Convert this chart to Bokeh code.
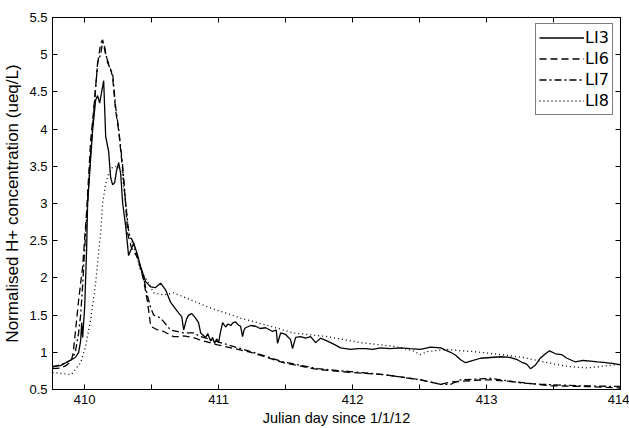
from bokeh.plotting import figure
from bokeh.models import LinearAxis, FixedTicker, Legend, LegendItem, Range1d
from bokeh.embed import file_html
from bokeh.resources import INLINE

# ---- data ----
li3_x = [409.76, 409.82, 409.90, 409.93, 409.955, 409.97, 409.978, 409.985, 410.0, 410.015,
         410.022, 410.037, 410.06, 410.082, 410.097, 410.112, 410.127, 410.142, 410.157, 410.179,
         410.194, 410.209, 410.224, 410.239, 410.254, 410.269, 410.284, 410.306, 410.328, 410.351,
         410.366, 410.396, 410.418, 410.455, 410.493, 410.53, 410.567, 410.604, 410.642, 410.701,
         410.725, 410.739, 410.761, 410.776, 410.80, 410.828, 410.85, 410.866, 410.903, 410.92,
         410.94, 410.955, 410.97, 410.985, 411.0, 411.015, 411.03, 411.052, 411.07, 411.09,
         411.11, 411.127, 411.145, 411.164, 411.179, 411.19, 411.201, 411.24, 411.276, 411.31,
         411.351, 411.403, 411.43, 411.44, 411.463, 411.5, 411.537, 411.552, 411.575, 411.612,
         411.65, 411.687, 411.724, 411.761, 411.80, 411.836, 411.87, 411.91, 411.985, 412.04,
         412.097, 412.15, 412.209, 412.28, 412.358, 412.43, 412.507, 412.582, 412.657, 412.731,
         412.77, 412.806, 412.843, 412.9, 412.955, 413.03, 413.104, 413.179, 413.23, 413.269,
         413.3, 413.328, 413.366, 413.40, 413.44, 413.47, 413.515, 413.56, 413.60, 413.664,
         413.72, 413.776, 413.83, 413.888, 413.94, 414.0]
li3_y = [0.81, 0.82, 0.90, 0.93, 1.00, 1.15, 1.40, 1.20, 1.60, 2.40,
         3.00, 3.40, 4.00, 4.39, 4.45, 4.35, 4.50, 4.65, 3.90, 3.70,
         3.35, 3.25, 3.28, 3.45, 3.55, 3.40, 3.00, 2.70, 2.30, 2.40,
         2.47, 2.30, 2.15, 1.95, 1.88, 1.87, 1.93, 1.84, 1.67, 1.53,
         1.48, 1.30, 1.45, 1.50, 1.52, 1.46, 1.40, 1.26, 1.20, 1.25,
         1.15, 1.20, 1.12, 1.18, 1.13, 1.28, 1.40, 1.34, 1.38, 1.36,
         1.40, 1.41, 1.37, 1.35, 1.21, 1.30, 1.33, 1.36, 1.35, 1.32,
         1.33, 1.28, 1.30, 1.12, 1.26, 1.24, 1.17, 1.05, 1.20, 1.21,
         1.19, 1.21, 1.13, 1.19, 1.16, 1.13, 1.10, 1.06, 1.04, 1.05,
         1.05, 1.04, 1.06, 1.05, 1.06, 1.05, 1.04, 1.07, 1.06, 1.00,
         0.96, 0.90, 0.86, 0.89, 0.92, 0.93, 0.94, 0.93, 0.90, 0.86,
         0.84, 0.78, 0.83, 0.92, 0.98, 1.02, 0.98, 0.97, 0.92, 0.87,
         0.89, 0.88, 0.87, 0.86, 0.85, 0.83]

li6_x = [409.76, 409.82, 409.86, 409.90, 409.915, 409.93, 409.955, 409.985, 410.015, 410.045,
         410.067, 410.097, 410.119, 410.134, 410.157, 410.179, 410.194, 410.209, 410.231, 410.254,
         410.284, 410.306, 410.321, 410.35, 410.396, 410.44, 410.47, 410.493, 410.545, 410.59,
         410.664, 410.716, 410.739, 410.81, 410.87, 410.993, 411.24, 411.485, 411.739, 411.985,
         412.231, 412.358, 412.507, 412.657, 412.731, 412.978, 413.03, 413.231, 413.478, 413.75,
         414.0]
li6_y = [0.78, 0.79, 0.82, 0.88, 1.00, 1.26, 1.70, 2.15, 2.90, 3.85,
         4.25, 4.88, 5.15, 5.20, 5.00, 4.88, 4.80, 4.70, 4.25, 3.98,
         3.45, 3.00, 2.60, 2.40, 2.27, 1.97, 1.67, 1.35, 1.30, 1.28,
         1.21, 1.21, 1.22, 1.20, 1.16, 1.10, 1.00, 0.86, 0.77, 0.73,
         0.70, 0.67, 0.63, 0.57, 0.60, 0.63, 0.63, 0.60, 0.55, 0.54,
         0.52]

li7_x = [409.76, 409.85, 409.90, 409.93, 409.955, 409.97, 409.985, 410.007, 410.022, 410.045,
         410.067, 410.082, 410.097, 410.119, 410.134, 410.15, 410.17, 410.194, 410.209, 410.231,
         410.254, 410.284, 410.306, 410.33, 410.37, 410.40, 410.44, 410.47, 410.493, 410.515,
         410.567, 410.642, 410.739, 410.813, 410.866, 410.978, 411.24, 411.485, 411.739, 411.985,
         412.231, 412.507, 412.657, 412.731, 412.806, 413.03, 413.104, 413.254, 413.403, 413.7,
         414.0]
li7_y = [0.80, 0.85, 0.90, 1.00, 1.26, 1.50, 1.90, 2.60, 3.00, 3.70,
         4.20, 4.55, 4.90, 5.00, 5.17, 5.10, 4.90, 4.80, 4.75, 4.30,
         4.00, 3.50, 3.00, 2.60, 2.45, 2.25, 2.00, 1.75, 1.60, 1.50,
         1.46, 1.30, 1.26, 1.26, 1.21, 1.15, 1.01, 0.87, 0.78, 0.74,
         0.70, 0.63, 0.57, 0.57, 0.63, 0.65, 0.63, 0.59, 0.57, 0.55,
         0.54]

li8_x = [409.76, 409.80, 409.90, 409.97, 410.007, 410.045, 410.082, 410.119, 410.134, 410.157,
         410.179, 410.209, 410.25, 410.28, 410.306, 410.33, 410.37, 410.418, 410.47, 410.515,
         410.59, 410.664, 410.918, 411.164, 411.388, 411.56, 411.813, 412.06, 412.306, 412.45,
         412.507, 412.56, 412.709, 412.806, 412.903, 413.104, 413.276, 413.455, 413.604, 413.754,
         413.948, 414.0]
li8_y = [0.73, 0.72, 0.70, 0.86, 1.08, 1.44, 1.93, 2.60, 3.00, 3.27,
         3.40, 3.49, 3.50, 3.40, 3.00, 2.60, 2.40, 2.10, 1.95, 1.80,
         1.77, 1.80, 1.61, 1.46, 1.35, 1.26, 1.21, 1.13, 1.08, 1.02,
         0.97, 1.01, 1.04, 1.02, 1.01, 0.97, 0.93, 0.86, 0.81, 0.79,
         0.83, 0.84]

series_names = ["LI3", "LI6", "LI7", "LI8"]
y_ticks = [0.5, 1.0, 1.5, 2.0, 2.5, 3.0, 3.5, 4.0, 4.5, 5.0, 5.5]
x_ticks = [410, 411, 412, 413, 414]
x_half_ticks = [410.5, 411.5, 412.5, 413.5]

FONT = "Liberation Sans"

p = figure(width=629, height=428, output_backend="svg", toolbar_location=None,
           x_range=Range1d(409.76, 414.0), y_range=Range1d(0.5, 5.5),
           x_axis_label="Julian day since 1/1/12",
           y_axis_label="Normalised H+ concentration (ueq/L)",
           min_border_left=52, min_border_right=9, min_border_top=17, min_border_bottom=38)
p.xgrid.visible = False
p.ygrid.visible = False
p.outline_line_color = "black"
p.outline_line_width = 1
p.background_fill_color = "white"
p.border_fill_color = "white"

lw = 1.3
r3 = p.line(li3_x, li3_y, line_color="black", line_width=lw)
r6 = p.line(li6_x, li6_y, line_color="black", line_width=lw, line_dash="7 4")
r7 = p.line(li7_x, li7_y, line_color="black", line_width=lw, line_dash="7 3 2 3")
r8 = p.line(li8_x, li8_y, line_color="black", line_width=lw, line_dash="1 3")

for ax in (p.xaxis[0], p.yaxis[0]):
    ax.major_tick_in = 5
    ax.major_tick_out = 0
    ax.minor_tick_in = 5
    ax.minor_tick_out = 0
    ax.axis_line_color = "black"
    ax.major_tick_line_color = "black"
    ax.minor_tick_line_color = "black"
    ax.major_label_text_font = FONT
    ax.major_label_text_font_size = "13px"
    ax.major_label_text_color = "black"
    ax.axis_label_text_font = FONT
    ax.axis_label_text_font_style = "normal"
    ax.axis_label_text_color = "black"

p.xaxis[0].ticker = FixedTicker(ticks=x_ticks, minor_ticks=x_half_ticks)
p.xaxis[0].major_label_standoff = 5
p.xaxis[0].axis_label_standoff = 3
p.xaxis[0].axis_label_text_font_size = "14.5px"
p.yaxis[0].ticker = FixedTicker(ticks=y_ticks, minor_ticks=[])
p.yaxis[0].major_label_standoff = 5
p.yaxis[0].axis_label_standoff = 4
p.yaxis[0].axis_label_text_font_size = "17px"

top = LinearAxis(ticker=FixedTicker(ticks=[], minor_ticks=x_ticks + x_half_ticks),
                 major_tick_in=0, major_tick_out=0,
                 minor_tick_in=5, minor_tick_out=0, minor_tick_line_color="black")
right = LinearAxis(ticker=FixedTicker(ticks=[], minor_ticks=y_ticks),
                   major_tick_in=0, major_tick_out=0,
                   minor_tick_in=5, minor_tick_out=0, minor_tick_line_color="black")
p.add_layout(top, "above")
p.add_layout(right, "right")

legend = Legend(items=[LegendItem(label=n, renderers=[r]) for n, r in
                       zip(series_names, [r3, r6, r7, r8])],
                location=(483, 274))
legend.padding = 3
legend.spacing = 0
legend.margin = 0
legend.glyph_width = 45
legend.glyph_height = 21
legend.label_height = 21
legend.label_standoff = 1
legend.label_text_font = "DejaVu Sans"
legend.label_text_font_size = "16px"
legend.label_text_color = "black"
legend.border_line_color = "black"
legend.border_line_width = 1
legend.background_fill_color = "white"
legend.background_fill_alpha = 1
p.add_layout(legend, "center")

open("out.html", "w").write(file_html(p, INLINE))
